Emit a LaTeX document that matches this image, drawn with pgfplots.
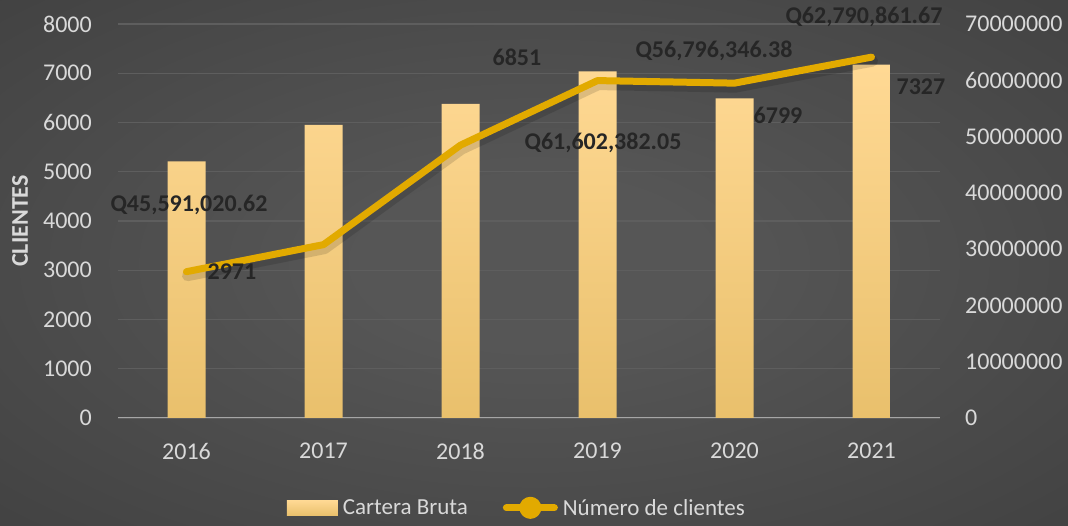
\documentclass[border=0pt]{standalone}
\usepackage{fontspec}
\setmainfont{Carlito}
\usepackage{pgfplots}
\pgfplotsset{compat=1.18}
\definecolor{bgc}{HTML}{565656}
\definecolor{bgm}{HTML}{383838}
\definecolor{bgo}{HTML}{2A2A2A}
\definecolor{gridc}{HTML}{5E5E5E}
\definecolor{axisc}{HTML}{A6A6A6}
\definecolor{txtc}{HTML}{D9D9D9}
\definecolor{lblc}{HTML}{262626}
\definecolor{barTop}{HTML}{FFD994}
\definecolor{barBot}{HTML}{E9C06C}
\definecolor{linec}{HTML}{E2AA00}
\pgfdeclareradialshading{bgshade}{\pgfpoint{0bp}{0bp}}{color(0bp)=(bgc); color(8bp)=(bgc); color(50bp)=(bgm); color(71bp)=(bgo)}
\newcommand{\fs}{\fontsize{24}{29}\selectfont}
\pgfplotsset{base/.style={scale only axis, width=822pt, height=394pt,
  xmin=-0.5, xmax=5.5, at={(118pt,108pt)}, anchor=south west,
  major tick length=0pt, axis line style={draw=none}}}
\begin{document}
\begin{tikzpicture}
\useasboundingbox (0,0) rectangle (1068pt,526pt);
\shade[shading=bgshade] (0,0) rectangle (1068pt,526pt);
% grid, left ticks, x ticks
\begin{axis}[base, ymin=0, ymax=8000,
  ytick={0,1000,2000,3000,4000,5000,6000,7000,8000},
  yticklabels={0,1000,2000,3000,4000,5000,6000,7000,8000},
  xtick={0,1,2,3,4,5},
  xticklabels={2016,2017,2018,2019,2020,2021},
  ymajorgrids, major grid style={gridc, line width=1.3pt},
  yticklabel style={font=\fs, text=txtc, inner sep=0pt, anchor=east, xshift=-26pt},
  xticklabel style={font=\fs, text=txtc, inner sep=0pt, anchor=north, yshift=-25pt},
  scaled y ticks=false]
\draw[axisc, line width=2pt] (axis cs:-0.5,0) -- (axis cs:5.5,0);
\end{axis}
% bars on right axis
\begin{axis}[base, ymin=0, ymax=70000000, axis x line=none, axis y line*=right,
  ytick={0,10000000,20000000,30000000,40000000,50000000,60000000,70000000},
  yticklabels={0,10000000,20000000,30000000,40000000,50000000,60000000,70000000},
  yticklabel style={font=\fs, text=txtc, inner sep=0pt, anchor=west, xshift=25pt},
  scaled y ticks=false]
\addplot[ybar, bar width=38pt, draw=none, top color=barTop, bottom color=barBot]
  coordinates {(0,45591020.62) (1,52060000) (2,55800000) (3,61602382.05) (4,56796346.38) (5,62790861.67)};
\end{axis}
% line on left axis
\begin{axis}[base, hide axis, ymin=0, ymax=8000, clip=false,
  legend style={at={(0.484,-0.228)}, anchor=center, draw=none, fill=none,
    legend columns=2, font=\fontsize{23}{28}\selectfont, text=txtc,
    nodes={inner sep=0pt},
    /tikz/every odd column/.append style={column sep=5pt},
    /tikz/every even column/.append style={column sep=35pt}}]
\addlegendimage{legend image code/.code={\shade[draw=none, top color=barTop, bottom color=barBot] (0pt,-7.5pt) rectangle (51pt,7.5pt);}}
\addlegendentry{Cartera Bruta}
\addplot[forget plot, black, opacity=0.13, line width=11pt, line join=round, line cap=round, yshift=-4pt, xshift=1pt]
  coordinates {(0,2971) (1,3520) (2,5540) (3,6851) (4,6799) (5,7327)};
\addplot[linec, line width=7pt, line join=round, line cap=round,
  legend image code/.code={\draw[linec, line width=7pt, line cap=round] (3.5pt,0pt) -- (51.5pt,0pt); \fill[linec] (27.5pt,0pt) circle (7.5pt);}]
  coordinates {(0,2971) (1,3520) (2,5540) (3,6851) (4,6799) (5,7327)};
\addlegendentry{Número de clientes}
\node[font=\bfseries\fs, text=lblc] at (axis cs:0.018,4325) {Q45,591,020.62};
\node[font=\bfseries\fs, text=lblc] at (axis cs:0.332,2964) {2971};
\node[font=\bfseries\fs, text=lblc] at (axis cs:2.412,7330) {6851};
\node[font=\bfseries\fs, text=lblc] at (axis cs:3.040,5584) {Q61,602,382.05};
\node[font=\bfseries\fs, text=lblc] at (axis cs:3.850,7452) {Q56,796,346.38};
\node[font=\bfseries\fs, text=lblc] at (axis cs:4.318,6152) {6799};
\node[font=\bfseries\fs, text=lblc] at (axis cs:4.945,8142) {Q62,790,861.67};
\node[font=\bfseries\fs, text=lblc] at (axis cs:5.361,6721) {7327};
\end{axis}
\node[rotate=90, font=\bfseries\fs, text=txtc] at (20pt,305pt) {CLIENTES};
\end{tikzpicture}
\end{document}
